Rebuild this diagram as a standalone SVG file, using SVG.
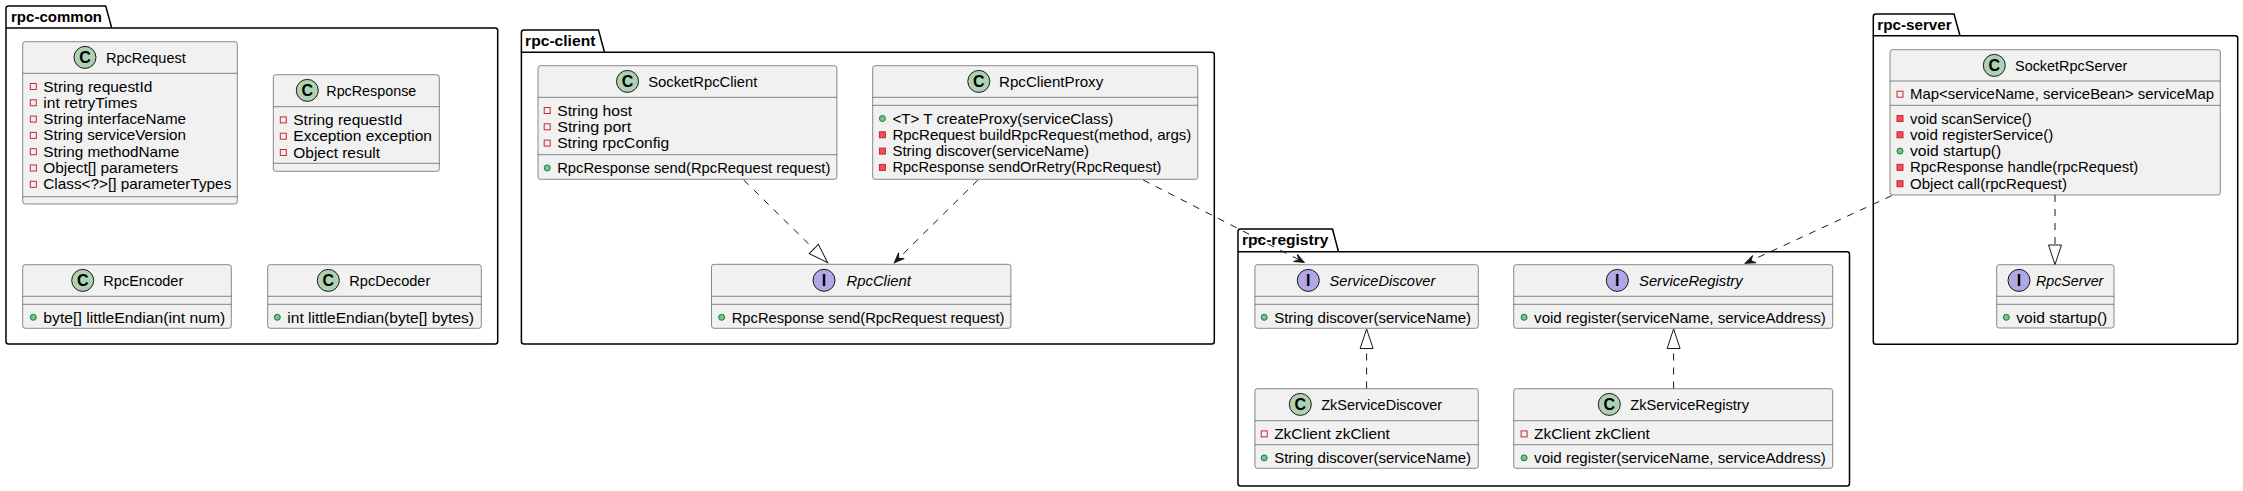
<svg xmlns="http://www.w3.org/2000/svg" width="2243" height="491" viewBox="0 0 2243 491">
<style>
.t{font-family:"Liberation Sans",Arial,sans-serif;font-size:14.5px;fill:#000}
.i{font-style:italic}
.pk{font-family:"Liberation Sans",Arial,sans-serif;font-size:14.5px;font-weight:bold;fill:#000}
.pkg{fill:none;stroke:#000;stroke-width:1.5}
.box{fill:#F1F1F1;stroke:#181818;stroke-width:0.5}
.dv{stroke:#181818;stroke-width:0.5}
.cc{fill:#ADD1B2;stroke:#181818;stroke-width:1}
.ic{fill:#B4A7E5;stroke:#181818;stroke-width:1}
.sp{font-family:"Liberation Sans",Arial,sans-serif;font-size:16px;font-weight:bold;fill:#000;text-anchor:middle}
.pf{fill:none;stroke:#C82930;stroke-width:1}
.pm{fill:#F24D5C;stroke:#C82930;stroke-width:1}
.pu{fill:#84BE84;stroke:#038048;stroke-width:1}
.ln{fill:none;stroke:#181818;stroke-width:1;stroke-dasharray:7 7}
</style>
<defs>
<marker id="tri" markerUnits="userSpaceOnUse" viewBox="-22 -10 24 20" markerWidth="24" markerHeight="20" refX="0" refY="0" orient="auto" overflow="visible">
<path d="M0,0 L-19.5,-6.5 L-19.5,6.5 Z" fill="#fff" stroke="#181818" stroke-width="1" stroke-dasharray="none"/>
</marker>
<marker id="arr" markerUnits="userSpaceOnUse" viewBox="-12 -6 14 12" markerWidth="14" markerHeight="12" refX="0" refY="0" orient="auto" overflow="visible">
<path d="M0,0 L-10,-4 L-6,0 L-10,4 Z" fill="#181818" stroke="#181818" stroke-width="1" stroke-dasharray="none"/>
</marker>
</defs>
<rect width="2243" height="491" fill="#fff"/>

<g id="pkg-rpc-common">
<path class="pkg" d="M6,28 L6,8.5 Q6,6 8.5,6 L105.7,6 L111.7,28"/>
<path class="pkg" d="M6,28 L495.2,28 Q497.7,28 497.7,30.5 L497.7,341.5 Q497.7,344 495.2,344 L8.5,344 Q6,344 6,341.5 Z"/>
<text class="pk" x="11" y="22" textLength="91" lengthAdjust="spacingAndGlyphs">rpc-common</text>
</g>
<g id="pkg-rpc-client">
<path class="pkg" d="M521.4,52.3 L521.4,32.5 Q521.4,30 523.9,30 L598.5,30 L604.5,52.3"/>
<path class="pkg" d="M521.4,52.3 L1211.8,52.3 Q1214.3,52.3 1214.3,54.8 L1214.3,341.5 Q1214.3,344 1211.8,344 L523.9,344 Q521.4,344 521.4,341.5 Z"/>
<text class="pk" x="525.1" y="46" textLength="70.3" lengthAdjust="spacingAndGlyphs">rpc-client</text>
</g>
<g id="pkg-rpc-registry">
<path class="pkg" d="M1238,251.7 L1238,231.5 Q1238,229 1240.5,229 L1332.5,229 L1338.5,251.7"/>
<path class="pkg" d="M1238,251.7 L1847,251.7 Q1849.5,251.7 1849.5,254.2 L1849.5,483.5 Q1849.5,486 1847,486 L1240.5,486 Q1238,486 1238,483.5 Z"/>
<text class="pk" x="1242" y="245" textLength="86.4" lengthAdjust="spacingAndGlyphs">rpc-registry</text>
</g>
<g id="pkg-rpc-server">
<path class="pkg" d="M1873.3,35.7 L1873.3,16.5 Q1873.3,14 1875.8,14 L1954,14 L1960,35.7"/>
<path class="pkg" d="M1873.3,35.7 L2235.2,35.7 Q2237.7,35.7 2237.7,38.2 L2237.7,341.8 Q2237.7,344.3 2235.2,344.3 L1875.8,344.3 Q1873.3,344.3 1873.3,341.8 Z"/>
<text class="pk" x="1877.3" y="30" textLength="74.4" lengthAdjust="spacingAndGlyphs">rpc-server</text>
</g>

<g id="RpcRequest">
<rect class="box" x="22.7" y="41.7" width="214.6" height="162.3" rx="2.5"/>
<line class="dv" x1="22.7" y1="73.3" x2="237.3" y2="73.3"/>
<line class="dv" x1="22.7" y1="196.7" x2="237.3" y2="196.7"/>
<circle class="cc" cx="85" cy="57.4" r="11"/>
<text class="sp" x="85" y="63">C</text>
<text class="t" x="106" y="62.7" textLength="79.7" lengthAdjust="spacingAndGlyphs">RpcRequest</text>
<rect class="pf" x="30.3" y="83.5" width="6" height="6"/>
<text class="t" x="43.3" y="91.5" textLength="109" lengthAdjust="spacingAndGlyphs">String requestId</text>
<rect class="pf" x="30.3" y="99.8" width="6" height="6"/>
<text class="t" x="43.3" y="107.8" textLength="94" lengthAdjust="spacingAndGlyphs">int retryTimes</text>
<rect class="pf" x="30.3" y="116.1" width="6" height="6"/>
<text class="t" x="43.3" y="124.1" textLength="142.7" lengthAdjust="spacingAndGlyphs">String interfaceName</text>
<rect class="pf" x="30.3" y="132.4" width="6" height="6"/>
<text class="t" x="43.3" y="140.4" textLength="142.7" lengthAdjust="spacingAndGlyphs">String serviceVersion</text>
<rect class="pf" x="30.3" y="148.7" width="6" height="6"/>
<text class="t" x="43.3" y="156.7" textLength="136" lengthAdjust="spacingAndGlyphs">String methodName</text>
<rect class="pf" x="30.3" y="165" width="6" height="6"/>
<text class="t" x="43.3" y="173" textLength="135" lengthAdjust="spacingAndGlyphs">Object[] parameters</text>
<rect class="pf" x="30.3" y="181.3" width="6" height="6"/>
<text class="t" x="43.3" y="189.3" textLength="188" lengthAdjust="spacingAndGlyphs">Class&lt;?&gt;[] parameterTypes</text>
</g>

<g id="RpcResponse">
<rect class="box" x="273.3" y="74.7" width="166" height="96.6" rx="2.5"/>
<line class="dv" x1="273.3" y1="106.7" x2="439.3" y2="106.7"/>
<line class="dv" x1="273.3" y1="163.3" x2="439.3" y2="163.3"/>
<circle class="cc" cx="307.3" cy="90.4" r="11"/>
<text class="sp" x="307.3" y="96">C</text>
<text class="t" x="326.3" y="95.7" textLength="90" lengthAdjust="spacingAndGlyphs">RpcResponse</text>
<rect class="pf" x="280.3" y="116.9" width="6" height="6"/>
<text class="t" x="293.3" y="124.9" textLength="109" lengthAdjust="spacingAndGlyphs">String requestId</text>
<rect class="pf" x="280.3" y="133.2" width="6" height="6"/>
<text class="t" x="293.3" y="141.2" textLength="138.7" lengthAdjust="spacingAndGlyphs">Exception exception</text>
<rect class="pf" x="280.3" y="149.5" width="6" height="6"/>
<text class="t" x="293.3" y="157.5" textLength="86.7" lengthAdjust="spacingAndGlyphs">Object result</text>
</g>

<g id="RpcEncoder">
<rect class="box" x="22.7" y="264.7" width="208.6" height="63.6" rx="2.5"/>
<line class="dv" x1="22.7" y1="296.3" x2="231.3" y2="296.3"/>
<line class="dv" x1="22.7" y1="304.3" x2="231.3" y2="304.3"/>
<circle class="cc" cx="82.7" cy="280.4" r="11"/>
<text class="sp" x="82.7" y="286">C</text>
<text class="t" x="103.3" y="285.7" textLength="80" lengthAdjust="spacingAndGlyphs">RpcEncoder</text>
<circle class="pu" cx="33.3" cy="317.3" r="3"/>
<text class="t" x="43.3" y="322.5" textLength="182" lengthAdjust="spacingAndGlyphs">byte[] littleEndian(int num)</text>
</g>

<g id="RpcDecoder">
<rect class="box" x="267.7" y="264.7" width="213.6" height="63.6" rx="2.5"/>
<line class="dv" x1="267.7" y1="296.3" x2="481.3" y2="296.3"/>
<line class="dv" x1="267.7" y1="304.3" x2="481.3" y2="304.3"/>
<circle class="cc" cx="328.3" cy="280.4" r="11"/>
<text class="sp" x="328.3" y="286">C</text>
<text class="t" x="349.3" y="285.7" textLength="81" lengthAdjust="spacingAndGlyphs">RpcDecoder</text>
<circle class="pu" cx="277.3" cy="317.3" r="3"/>
<text class="t" x="287.3" y="322.5" textLength="186.7" lengthAdjust="spacingAndGlyphs">int littleEndian(byte[] bytes)</text>
</g>

<g id="SocketRpcClient">
<rect class="box" x="538" y="65.7" width="298.9" height="113.6" rx="2.5"/>
<line class="dv" x1="538" y1="97.3" x2="836.9" y2="97.3"/>
<line class="dv" x1="538" y1="154.7" x2="836.9" y2="154.7"/>
<circle class="cc" cx="627.5" cy="81.4" r="11"/>
<text class="sp" x="627.5" y="87">C</text>
<text class="t" x="648.2" y="86.7" textLength="109.2" lengthAdjust="spacingAndGlyphs">SocketRpcClient</text>
<rect class="pf" x="544.2" y="107.5" width="6" height="6"/>
<text class="t" x="557.2" y="115.5" textLength="74.9" lengthAdjust="spacingAndGlyphs">String host</text>
<rect class="pf" x="544.2" y="123.8" width="6" height="6"/>
<text class="t" x="557.2" y="131.8" textLength="74" lengthAdjust="spacingAndGlyphs">String port</text>
<rect class="pf" x="544.2" y="140.1" width="6" height="6"/>
<text class="t" x="557.2" y="148.1" textLength="112.1" lengthAdjust="spacingAndGlyphs">String rpcConfig</text>
<circle class="pu" cx="547.2" cy="167.9" r="3"/>
<text class="t" x="557.2" y="172.9" textLength="273.2" lengthAdjust="spacingAndGlyphs">RpcResponse send(RpcRequest request)</text>
</g>

<g id="RpcClientProxy">
<rect class="box" x="872.7" y="65.7" width="325.1" height="113.6" rx="2.5"/>
<line class="dv" x1="872.7" y1="97.3" x2="1197.8" y2="97.3"/>
<line class="dv" x1="872.7" y1="105.3" x2="1197.8" y2="105.3"/>
<circle class="cc" cx="978.8" cy="81.4" r="11"/>
<text class="sp" x="978.8" y="87">C</text>
<text class="t" x="999" y="86.7" textLength="104.2" lengthAdjust="spacingAndGlyphs">RpcClientProxy</text>
<circle class="pu" cx="882.4" cy="118.5" r="3"/>
<text class="t" x="892.4" y="123.5" textLength="220.9" lengthAdjust="spacingAndGlyphs">&lt;T&gt; T createProxy(serviceClass)</text>
<rect class="pm" x="879.4" y="131.8" width="6" height="6"/>
<text class="t" x="892.4" y="139.8" textLength="299" lengthAdjust="spacingAndGlyphs">RpcRequest buildRpcRequest(method, args)</text>
<rect class="pm" x="879.4" y="148.1" width="6" height="6"/>
<text class="t" x="892.4" y="156.1" textLength="196.6" lengthAdjust="spacingAndGlyphs">String discover(serviceName)</text>
<rect class="pm" x="879.4" y="164.4" width="6" height="6"/>
<text class="t" x="892.4" y="172.4" textLength="269.1" lengthAdjust="spacingAndGlyphs">RpcResponse sendOrRetry(RpcRequest)</text>
</g>

<g id="RpcClient">
<rect class="box" x="711.5" y="264.3" width="299.4" height="64" rx="2.5"/>
<line class="dv" x1="711.5" y1="296.3" x2="1010.9" y2="296.3"/>
<line class="dv" x1="711.5" y1="304.3" x2="1010.9" y2="304.3"/>
<circle class="ic" cx="824" cy="280.3" r="11"/>
<text class="sp" x="824" y="286">I</text>
<text class="t i" x="846.5" y="285.5" textLength="64.3" lengthAdjust="spacingAndGlyphs">RpcClient</text>
<circle class="pu" cx="721.7" cy="317.3" r="3"/>
<text class="t" x="731.7" y="322.5" textLength="272.8" lengthAdjust="spacingAndGlyphs">RpcResponse send(RpcRequest request)</text>
</g>

<g id="ServiceDiscover">
<rect class="box" x="1254.9" y="264.7" width="223.4" height="63.6" rx="2.5"/>
<line class="dv" x1="1254.9" y1="296.3" x2="1478.3" y2="296.3"/>
<line class="dv" x1="1254.9" y1="304.3" x2="1478.3" y2="304.3"/>
<circle class="ic" cx="1308.3" cy="280.4" r="11"/>
<text class="sp" x="1308.3" y="286">I</text>
<text class="t i" x="1329.6" y="285.7" textLength="105.7" lengthAdjust="spacingAndGlyphs">ServiceDiscover</text>
<circle class="pu" cx="1264.2" cy="317.3" r="3"/>
<text class="t" x="1274.2" y="322.5" textLength="196.8" lengthAdjust="spacingAndGlyphs">String discover(serviceName)</text>
</g>

<g id="ServiceRegistry">
<rect class="box" x="1513.7" y="264.7" width="319" height="63.6" rx="2.5"/>
<line class="dv" x1="1513.7" y1="296.3" x2="1832.7" y2="296.3"/>
<line class="dv" x1="1513.7" y1="304.3" x2="1832.7" y2="304.3"/>
<circle class="ic" cx="1617.3" cy="280.4" r="11"/>
<text class="sp" x="1617.3" y="286">I</text>
<text class="t i" x="1639" y="285.7" textLength="103.7" lengthAdjust="spacingAndGlyphs">ServiceRegistry</text>
<circle class="pu" cx="1524.1" cy="317.3" r="3"/>
<text class="t" x="1534.1" y="322.5" textLength="291.7" lengthAdjust="spacingAndGlyphs">void register(serviceName, serviceAddress)</text>
</g>

<g id="ZkServiceDiscover">
<rect class="box" x="1254.9" y="388.7" width="223.4" height="79.6" rx="2.5"/>
<line class="dv" x1="1254.9" y1="420.7" x2="1478.3" y2="420.7"/>
<line class="dv" x1="1254.9" y1="444.7" x2="1478.3" y2="444.7"/>
<circle class="cc" cx="1300.3" cy="404.4" r="11"/>
<text class="sp" x="1300.3" y="410">C</text>
<text class="t" x="1321.2" y="409.7" textLength="120.9" lengthAdjust="spacingAndGlyphs">ZkServiceDiscover</text>
<rect class="pf" x="1261.2" y="430.9" width="6" height="6"/>
<text class="t" x="1274.2" y="438.9" textLength="115.7" lengthAdjust="spacingAndGlyphs">ZkClient zkClient</text>
<circle class="pu" cx="1264.2" cy="457.9" r="3"/>
<text class="t" x="1274.2" y="462.9" textLength="196.8" lengthAdjust="spacingAndGlyphs">String discover(serviceName)</text>
</g>

<g id="ZkServiceRegistry">
<rect class="box" x="1513.7" y="388.7" width="319" height="79.6" rx="2.5"/>
<line class="dv" x1="1513.7" y1="420.7" x2="1832.7" y2="420.7"/>
<line class="dv" x1="1513.7" y1="444.7" x2="1832.7" y2="444.7"/>
<circle class="cc" cx="1609.3" cy="404.4" r="11"/>
<text class="sp" x="1609.3" y="410">C</text>
<text class="t" x="1630.2" y="409.7" textLength="118.9" lengthAdjust="spacingAndGlyphs">ZkServiceRegistry</text>
<rect class="pf" x="1521.1" y="430.9" width="6" height="6"/>
<text class="t" x="1534.1" y="438.9" textLength="115.7" lengthAdjust="spacingAndGlyphs">ZkClient zkClient</text>
<circle class="pu" cx="1524.1" cy="457.9" r="3"/>
<text class="t" x="1534.1" y="462.9" textLength="291.7" lengthAdjust="spacingAndGlyphs">void register(serviceName, serviceAddress)</text>
</g>

<g id="SocketRpcServer">
<rect class="box" x="1890" y="49.7" width="330.3" height="145.3" rx="2.5"/>
<line class="dv" x1="1890" y1="81" x2="2220.3" y2="81"/>
<line class="dv" x1="1890" y1="105.3" x2="2220.3" y2="105.3"/>
<circle class="cc" cx="1994.3" cy="65.4" r="11"/>
<text class="sp" x="1994.3" y="71">C</text>
<text class="t" x="2015" y="70.7" textLength="112.3" lengthAdjust="spacingAndGlyphs">SocketRpcServer</text>
<rect class="pf" x="1897" y="91.2" width="6" height="6"/>
<text class="t" x="1910" y="99.2" textLength="304" lengthAdjust="spacingAndGlyphs">Map&lt;serviceName, serviceBean&gt; serviceMap</text>
<rect class="pm" x="1897" y="115.5" width="6" height="6"/>
<text class="t" x="1910" y="123.5" textLength="121.7" lengthAdjust="spacingAndGlyphs">void scanService()</text>
<rect class="pm" x="1897" y="131.8" width="6" height="6"/>
<text class="t" x="1910" y="139.8" textLength="143.3" lengthAdjust="spacingAndGlyphs">void registerService()</text>
<circle class="pu" cx="1900" cy="151.1" r="3"/>
<text class="t" x="1910" y="156.1" textLength="91.3" lengthAdjust="spacingAndGlyphs">void startup()</text>
<rect class="pm" x="1897" y="164.4" width="6" height="6"/>
<text class="t" x="1910" y="172.4" textLength="228.3" lengthAdjust="spacingAndGlyphs">RpcResponse handle(rpcRequest)</text>
<rect class="pm" x="1897" y="180.7" width="6" height="6"/>
<text class="t" x="1910" y="188.7" textLength="157" lengthAdjust="spacingAndGlyphs">Object call(rpcRequest)</text>
</g>

<g id="RpcServer">
<rect class="box" x="1996.7" y="264.7" width="117.3" height="63.3" rx="2.5"/>
<line class="dv" x1="1996.7" y1="296.3" x2="2114" y2="296.3"/>
<line class="dv" x1="1996.7" y1="304.3" x2="2114" y2="304.3"/>
<circle class="ic" cx="2019" cy="280.4" r="11"/>
<text class="sp" x="2019" y="286">I</text>
<text class="t i" x="2036" y="285.7" textLength="67.3" lengthAdjust="spacingAndGlyphs">RpcServer</text>
<circle class="pu" cx="2006.3" cy="317.3" r="3"/>
<text class="t" x="2016.3" y="322.5" textLength="91" lengthAdjust="spacingAndGlyphs">void startup()</text>
</g>

<g id="connectors">
<path class="ln" d="M743.7,180 L827.7,262.7" marker-end="url(#tri)"/>
<path class="ln" d="M977.9,180 L894.3,262.7" marker-end="url(#arr)"/>
<path class="ln" d="M1143.2,180 L1304.3,262.5" marker-end="url(#arr)"/>
<path class="ln" d="M1891.7,195.7 L1745.3,263.3" marker-end="url(#arr)"/>
<path class="ln" d="M1366.6,388.5 L1366.6,329" marker-end="url(#tri)"/>
<path class="ln" d="M1673.6,388.5 L1673.6,329" marker-end="url(#tri)"/>
<path class="ln" d="M2055,195 L2055,264.5" marker-end="url(#tri)"/>
</g>
</svg>
